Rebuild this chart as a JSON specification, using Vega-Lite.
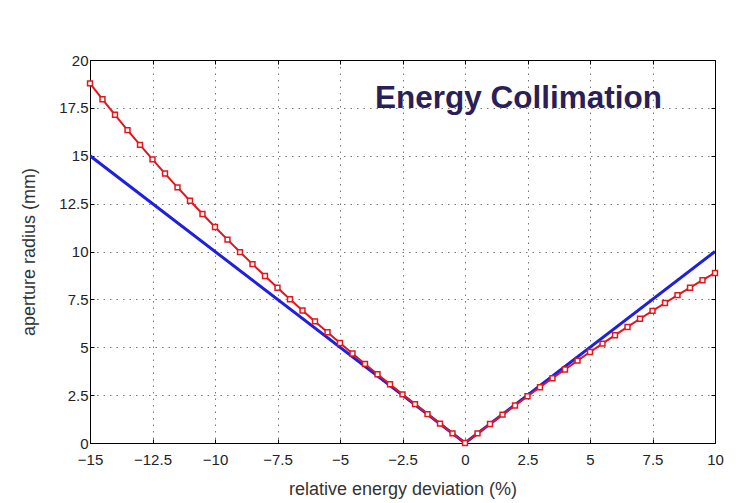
{
  "$schema": "https://vega.github.io/schema/vega-lite/v6.json",
  "width": 625,
  "height": 383,
  "autosize": {"type": "none"},
  "padding": {"left": 90, "top": 60, "right": 36, "bottom": 60},
  "background": "white",
  "config": {
    "view": {"stroke": "black", "strokeWidth": 1},
    "font": "Liberation Sans",
    "axis": {
      "labelFont": "Liberation Sans",
      "labelFontSize": 15,
      "labelColor": "#222",
      "titleFont": "Liberation Sans",
      "titleFontSize": 18,
      "titleFontWeight": "normal",
      "titleColor": "#333",
      "domainColor": "black",
      "tickColor": "black",
      "gridColor": "#777",
      "gridDash": [1.5, 5],
      "gridWidth": 1
    }
  },
  "resolve": {"axis": {"x": "independent", "y": "independent"}},
  "datasets": {
    "blue": [
      {"d": -15, "r": 15},
      {"d": 0, "r": 0},
      {"d": 10, "r": 10}
    ],
    "red": [
      {"d": -15, "r": 18.78}, {"d": -14.5, "r": 17.95}, {"d": -14, "r": 17.14}, {"d": -13.5, "r": 16.34},
      {"d": -13, "r": 15.57}, {"d": -12.5, "r": 14.81}, {"d": -12, "r": 14.07}, {"d": -11.5, "r": 13.35},
      {"d": -11, "r": 12.65}, {"d": -10.5, "r": 11.96}, {"d": -10, "r": 11.28}, {"d": -9.5, "r": 10.62},
      {"d": -9, "r": 9.97}, {"d": -8.5, "r": 9.34}, {"d": -8, "r": 8.72}, {"d": -7.5, "r": 8.11},
      {"d": -7, "r": 7.51}, {"d": -6.5, "r": 6.92}, {"d": -6, "r": 6.35}, {"d": -5.5, "r": 5.78},
      {"d": -5, "r": 5.22}, {"d": -4.5, "r": 4.67}, {"d": -4, "r": 4.13}, {"d": -3.5, "r": 3.59},
      {"d": -3, "r": 3.07}, {"d": -2.5, "r": 2.54}, {"d": -2, "r": 2.03}, {"d": -1.5, "r": 1.51},
      {"d": -1, "r": 1.01}, {"d": -0.5, "r": 0.5}, {"d": 0, "r": 0}, {"d": 0.5, "r": 0.5},
      {"d": 1, "r": 0.99}, {"d": 1.5, "r": 1.48}, {"d": 2, "r": 1.96}, {"d": 2.5, "r": 2.44},
      {"d": 3, "r": 2.91}, {"d": 3.5, "r": 3.38}, {"d": 4, "r": 3.84}, {"d": 4.5, "r": 4.3},
      {"d": 5, "r": 4.75}, {"d": 5.5, "r": 5.19}, {"d": 6, "r": 5.63}, {"d": 6.5, "r": 6.06},
      {"d": 7, "r": 6.49}, {"d": 7.5, "r": 6.9}, {"d": 8, "r": 7.31}, {"d": 8.5, "r": 7.72},
      {"d": 9, "r": 8.11}, {"d": 9.5, "r": 8.5}, {"d": 10, "r": 8.88}
    ]
  },
  "layer": [
    {
      "data": {"name": "blue"},
      "mark": {"type": "line", "color": "#1f1fe0", "strokeWidth": 3, "clip": true},
      "encoding": {
        "x": {
          "field": "d", "type": "quantitative",
          "scale": {"domain": [-15, 10], "nice": false, "zero": false},
          "axis": {
            "title": "relative energy deviation  (%)",
            "values": [-15, -12.5, -10, -7.5, -5, -2.5, 0, 2.5, 5, 7.5, 10],
            "format": ".1~f",
            "grid": true,
            "tickSize": -4,
            "labelPadding": 13,
            "titlePadding": 13,
            "labelFlush": false
          }
        },
        "y": {
          "field": "r", "type": "quantitative",
          "scale": {"domain": [0, 20], "nice": false},
          "axis": {
            "title": "aperture radius (mm)",
            "values": [0, 2.5, 5, 7.5, 10, 12.5, 15, 17.5, 20],
            "format": ".1~f",
            "grid": true,
            "tickSize": -4,
            "labelPadding": 6,
            "titlePadding": 20,
            "labelFlush": false
          }
        }
      }
    },
    {
      "data": {"name": "red"},
      "mark": {"type": "line", "color": "#e3161d", "strokeWidth": 2, "clip": true},
      "encoding": {
        "x": {
          "field": "d", "type": "quantitative",
          "axis": {
            "orient": "top",
            "title": null,
            "values": [-15, -12.5, -10, -7.5, -5, -2.5, 0, 2.5, 5, 7.5, 10],
            "labels": false,
            "grid": false,
            "tickSize": -4
          }
        },
        "y": {
          "field": "r", "type": "quantitative",
          "axis": {
            "orient": "right",
            "title": null,
            "values": [0, 2.5, 5, 7.5, 10, 12.5, 15, 17.5, 20],
            "labels": false,
            "grid": false,
            "tickSize": -4
          }
        }
      }
    },
    {
      "data": {"name": "red"},
      "mark": {"type": "point", "shape": "square", "size": 24, "filled": false, "stroke": "#e3161d", "strokeWidth": 1.5, "fill": "white", "fillOpacity": 1, "opacity": 1},
      "encoding": {
        "x": {"field": "d", "type": "quantitative", "axis": null},
        "y": {"field": "r", "type": "quantitative", "axis": null}
      }
    },
    {
      "data": {"values": [{}]},
      "mark": {"type": "text", "text": "Energy Collimation", "font": "Liberation Sans", "fontSize": 31.5, "fontWeight": "bold", "color": "#2b1f58", "align": "left", "baseline": "alphabetic"},
      "encoding": {
        "x": {"datum": -3.6, "type": "quantitative", "axis": null},
        "y": {"datum": 17.5, "type": "quantitative", "axis": null}
      }
    }
  ]
}
